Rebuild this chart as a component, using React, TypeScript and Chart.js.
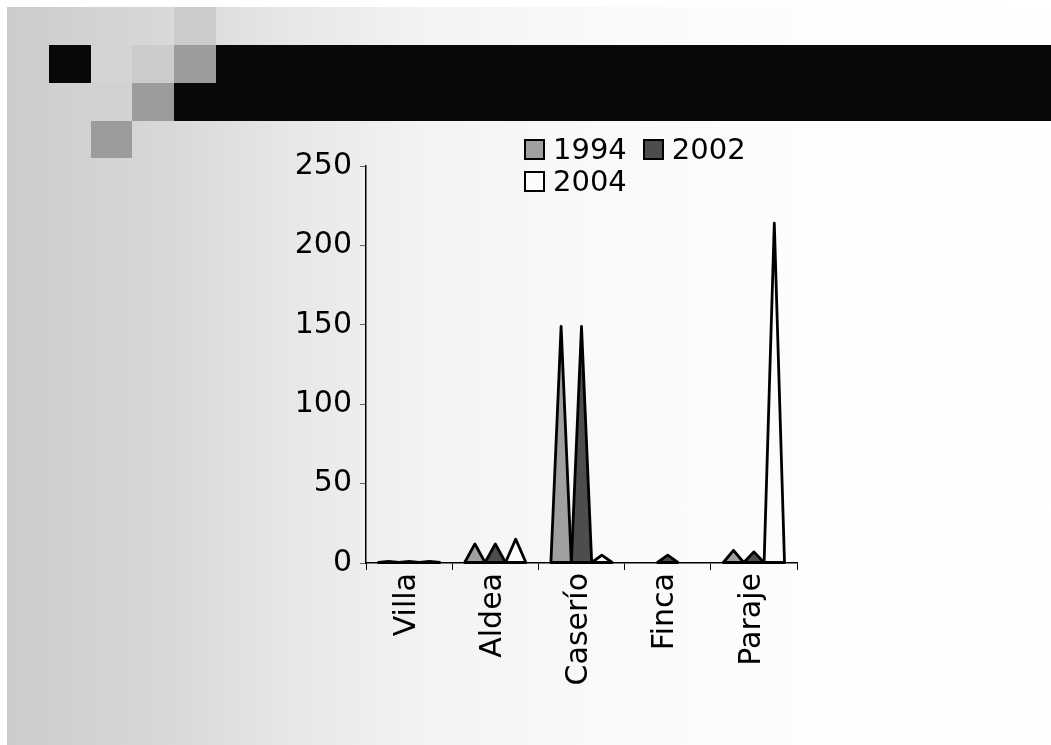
import React, { useEffect, useRef } from 'react';
import { Chart, registerables } from 'chart.js';

Chart.register(...registerables);

const categories = ['Villa', 'Aldea', 'Caserío', 'Finca', 'Paraje'];
const seriesLabels = ['1994', '2002', '2004'];
const values1994 = [1, 12, 149, 0, 8];
const values2002 = [1, 12, 149, 5, 7];
const values2004 = [1, 15, 5, 0, 214];
const yTicks = [0, 50, 100, 150, 200, 250];
const seriesColors = ['#a0a0a0', '#4d4d4d', '#fcfcfc'];

const FONT = '"DejaVu Sans", "Liberation Sans", Arial, sans-serif';

const trianglePlugin = {
  id: 'triangles',
  beforeDatasetDraw(chart: any, args: any) {
    const ctx = chart.ctx;
    const ds = chart.data.datasets[args.index];
    ctx.save();
    args.meta.data.forEach((el: any) => {
      const { x, y, base, width } = el.getProps(['x', 'y', 'base', 'width'], true);
      if (Math.abs(base - y) < 0.3) return;
      ctx.beginPath();
      ctx.moveTo(x - width / 2, base);
      ctx.lineTo(x, y);
      ctx.lineTo(x + width / 2, base);
      ctx.closePath();
      ctx.fillStyle = ds.backgroundColor;
      ctx.fill();
      ctx.lineWidth = 2.8;
      ctx.strokeStyle = '#000';
      ctx.lineJoin = 'round';
      ctx.stroke();
    });
    ctx.restore();
    return false;
  },
};

const sq = (left: number, top: number, width: number, height: number, bg: string): React.CSSProperties => ({
  position: 'absolute', left: left - 7, top: top - 7, width, height, background: bg,
});

export default function App() {
  const canvasRef = useRef<HTMLCanvasElement>(null);

  useEffect(() => {
    if (!canvasRef.current) return;
    const allValues = [values1994, values2002, values2004];
    const chart = new Chart(canvasRef.current, {
      type: 'bar',
      data: {
        labels: categories,
        datasets: seriesLabels.map((label, i) => ({
          label,
          data: allValues[i],
          backgroundColor: seriesColors[i],
          borderColor: '#000',
          borderWidth: 2,
          categoryPercentage: 0.71,
          barPercentage: 1.0,
        })),
      },
      options: {
        responsive: false,
        animation: false,
        layout: { padding: { left: 266, top: 166, right: 254, bottom: 0 } },
        plugins: {
          legend: { display: false },
          tooltip: { enabled: false },
        },
        scales: {
          x: {
            type: 'category',
            grid: { offset: true, drawOnChartArea: false, drawTicks: true, tickLength: 7, color: '#000', lineWidth: 1 },
            border: { display: true, color: '#000', width: 1.5 },
            ticks: {
              autoSkip: false,
              minRotation: 90,
              maxRotation: 90,
              color: '#000',
              padding: 3,
              labelOffset: -2,
              font: { family: FONT, size: 30 },
            },
            afterFit: (s: any) => { s.height = 182; },
          },
          y: {
            min: 0,
            max: 250,
            grid: { drawOnChartArea: false, drawTicks: true, tickLength: 6, color: '#666', lineWidth: 1 },
            border: { display: true, color: '#000', width: 1.5 },
            ticks: {
              color: '#000',
              padding: 8,
              font: { family: FONT, size: 30 },
            },
            afterBuildTicks: (s: any) => { s.ticks = yTicks.map((v) => ({ value: v })); },
            afterFit: (s: any) => { s.width = 100; },
          },
        },
      },
      plugins: [trianglePlugin],
    });
    return () => chart.destroy();
  }, []);

  return (
    <div>
      <div
        style={{
          position: 'fixed', left: 7, top: 7, width: 1044, height: 738, overflow: 'hidden',
          background: 'linear-gradient(to right, #cccccc 0%, #d8d8d8 15%, #e8e8e8 28%, #f3f3f3 40%, #f9f9f9 55%, #fdfdfd 75%, #ffffff 100%)',
        }}
      >
        <div style={sq(174, 45, 900, 76, '#080808')} />
        <div style={sq(174, 7, 42, 38, '#cbcbcb')} />
        <div style={sq(49, 45, 42, 38, '#080808')} />
        <div style={sq(91, 45, 41, 38, '#d4d4d4')} />
        <div style={sq(132, 45, 42, 38, '#cccccc')} />
        <div style={sq(174, 45, 42, 38, '#9c9c9c')} />
        <div style={sq(91, 83, 41, 38, '#d2d2d2')} />
        <div style={sq(132, 83, 42, 38, '#9c9c9c')} />
        <div style={sq(91, 121, 41, 37, '#9c9c9c')} />
      </div>
      <canvas
        ref={canvasRef}
        width={1051}
        height={745}
        style={{ position: 'fixed', left: 0, top: 0, width: 1051, height: 745 }}
      />
      <div
        style={{
          position: 'fixed', left: 524, top: 133, width: 240, display: 'flex', flexWrap: 'wrap',
          fontFamily: FONT, fontSize: 29, lineHeight: '32px', color: '#000',
        }}
      >
        {seriesLabels.map((label, i) => (
          <div key={label} style={{ display: 'flex', alignItems: 'center', marginRight: 16 }}>
            <span
              style={{
                display: 'inline-block', width: 17, height: 17, border: '2px solid #000',
                background: seriesColors[i], marginRight: 8,
              }}
            />
            <span>{label}</span>
          </div>
        ))}
      </div>
    </div>
  );
}
